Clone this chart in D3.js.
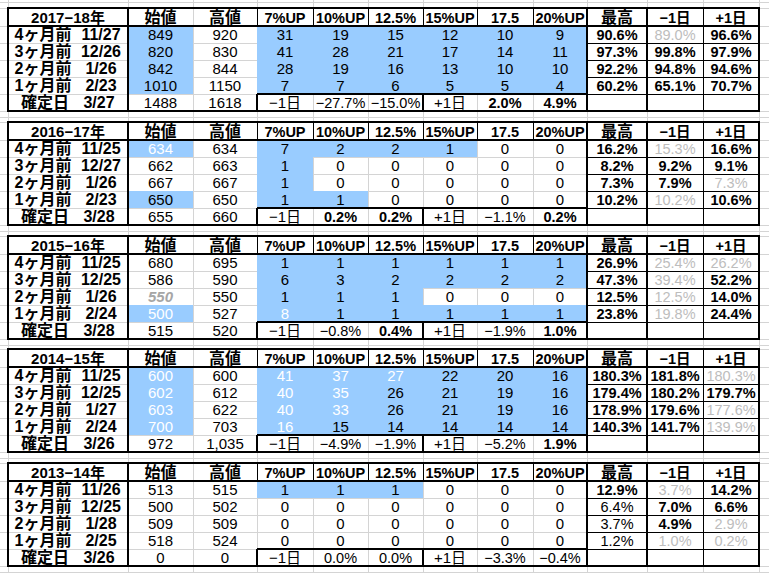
<!DOCTYPE html>
<html><head><meta charset="utf-8">
<script src="https://cdn.jsdelivr.net/npm/d3@7"></script>
<style>body{margin:0;background:#fff}svg{display:block}</style>
</head><body><svg id="c" width="769" height="573"></svg>
<script>
// ---------- data ----------
const years = ["2017−18年","2016−17年","2015−16年","2014−15年","2013−14年"];
const headers = ["始値","高値","7%UP","10%UP","12.5%","15%UP","17.5","20%UP","最高","−1日","+1日"];
const rowLabels = ["4ヶ月前","3ヶ月前","2ヶ月前","1ヶ月前","確定日"];
const dates = [
  ["11/27","12/26","1/26","2/23","3/27"],
  ["11/25","12/27","1/26","2/23","3/28"],
  ["11/25","12/25","1/26","2/24","3/28"],
  ["11/25","12/25","1/27","2/24","3/26"],
  ["11/26","12/25","1/28","2/25","3/26"]];
const openPrice = [[849,820,842,1010,1488],[634,662,667,650,655],[680,586,550,500,515],[600,602,603,700,972],[513,500,509,518,0]];
const highPrice = [[920,830,844,1150,1618],[634,663,667,650,660],[695,590,550,527,520],[600,612,622,703,1035],[515,502,509,524,0]];
const upCounts = [
  [[31,19,15,12,10,9],[41,28,21,17,14,11],[28,19,16,13,10,10],[7,7,6,5,5,4]],
  [[7,2,2,1,0,0],[1,0,0,0,0,0],[1,0,0,0,0,0],[1,1,0,0,0,0]],
  [[1,1,1,1,1,1],[6,3,2,2,2,2],[1,1,1,0,0,0],[8,1,1,1,1,1]],
  [[41,37,27,22,20,16],[40,35,26,21,19,16],[40,33,26,21,19,16],[16,15,14,14,14,14]],
  [[1,1,1,0,0,0],[0,0,0,0,0,0],[0,0,0,0,0,0],[0,0,0,0,0,0]]];
const confirmChange = [
  ["−1日",-27.7,-15.0,"+1日",2.0,4.9],
  ["−1日",0.2,0.2,"+1日",-1.1,0.2],
  ["−1日",-0.8,0.4,"+1日",-1.9,1.0],
  ["−1日",-4.9,-1.9,"+1日",-5.2,1.9],
  ["−1日",0.0,0.0,"+1日",-3.3,-0.4]];
const maxPct    = [[90.6,97.3,92.2,60.2],[16.2,8.2,7.3,10.2],[26.9,47.3,12.5,23.8],[180.3,179.4,178.9,140.3],[12.9,6.4,3.7,1.2]];
const minus1Pct = [[89.0,99.8,94.8,65.1],[15.3,9.2,7.9,10.2],[25.4,39.4,12.5,19.8],[181.8,180.2,179.6,141.7],[3.7,7.0,4.9,1.0]];
const plus1Pct  = [[96.6,97.9,94.6,70.7],[16.6,9.1,7.3,10.6],[26.2,52.2,14.0,24.4],[180.3,179.7,177.6,139.9],[14.2,6.6,2.9,0.2]];
// highlighted opening prices per block, rows 1-4
const openMarked = [[1,1,1,1],[1,0,0,1],[0,0,0,1],[1,1,1,1],[0,0,0,0]];
const openWhite  = [[0,0,0,0],[1,0,0,0],[0,0,0,1],[1,1,1,1],[0,0,0,0]];
const openItalic = [[0,0,0,0],[0,0,0,0],[0,0,1,0],[0,0,0,0],[0,0,0,0]];
const upWhite = [[2,3,0],[3,0,0],[3,1,0],[3,2,0],[3,3,0],[3,0,1],[3,1,1],[3,2,1],[3,0,2]];
const thousandsSep = [false,false,false,true,false];

// ---------- layout ----------
const svg = d3.select("#c");
const W = 769, H = 573;
const colWidths = [120,65,64,56,55,55,54,56,54,60,56,56];
const edges = [8, ...d3.cumsum(colWidths).map(v => v + 8)];
const cx = k => (edges[k] + edges[k+1]) / 2;
const blockTop = d3.scaleLinear().domain([0, 4]).range([8, 463]);
const headH = 18, rowH = 17, blockH = headH + rowH * 5;
const rowTop = (b, r) => Math.round(blockTop(b)) + headH + rowH * r;
const BLUE = "#99ccff", GRID = "#d4d4d4", GRAY = "#bdbdbd";
const FONT = "'Liberation Sans','Noto Sans CJK JP',sans-serif";
const pf = d3.format(".1f");
const pct = v => pf(v) + "%";

svg.append("rect").attr("width", W).attr("height", H).attr("fill", "#fff");

// gridlines
const gGrid = svg.append("g").attr("stroke", GRID).attr("stroke-width", 1);
const hLines = [2];
d3.range(5).forEach(b => {
  const t = Math.round(blockTop(b));
  hLines.push(t, t + headH);
  d3.range(1, 6).forEach(r => hLines.push(t + headH + rowH * r));
  hLines.push(t + blockH + 6);
});
gGrid.selectAll("line.h").data(hLines).join("line").attr("class","h")
  .attr("x1", 0).attr("x2", W).attr("y1", d => d + 0.5).attr("y2", d => d + 0.5);
gGrid.selectAll("line.v").data(edges).join("line").attr("class","v")
  .attr("y1", 0).attr("y2", H).attr("x1", d => d + 0.5).attr("x2", d => d + 0.5);

// fills
const gFill = svg.append("g").attr("fill", BLUE);
d3.range(5).forEach(b => {
  d3.range(4).forEach(r => {
    if (openMarked[b][r]) gFill.append("rect").attr("x", edges[1]).attr("y", rowTop(b, r))
      .attr("width", edges[2] - edges[1]).attr("height", rowH);
    upCounts[b][r].forEach((v, c) => {
      if (v > 0) gFill.append("rect").attr("x", edges[3 + c]).attr("y", rowTop(b, r))
        .attr("width", edges[4 + c] - edges[3 + c]).attr("height", rowH);
    });
  });
});

// borders
const gB = svg.append("g").attr("stroke", "#000").attr("fill", "none");
const line = (x1, y1, x2, y2, w) => gB.append("line").attr("x1", x1).attr("y1", y1).attr("x2", x2).attr("y2", y2).attr("stroke-width", w);
d3.range(5).forEach(b => {
  const t = Math.round(blockTop(b)), bt = t + blockH, hb = t + headH;
  const r4 = hb + rowH * 4;
  for (let k = 3; k <= 8; k++) line(edges[k] + 0.5, t, edges[k] + 0.5, hb, 1);
  for (let r = 1; r <= 4; r++) line(edges[9], hb + rowH * r + 0.5, edges[12], hb + rowH * r + 0.5, 1);
  line(edges[11] + 0.5, t, edges[11] + 0.5, bt, 1);
  line(edges[3], r4, edges[9], r4, 2);
  line(edges[3], r4, edges[3], bt, 2);
  line(edges[6], r4, edges[6], bt, 2);
  line(edges[0], hb, edges[12], hb, 2);
  [1, 9, 10].forEach(k => line(edges[k], t, edges[k], bt, 2));
  gB.append("rect").attr("x", edges[0]).attr("y", t).attr("width", edges[12] - edges[0])
    .attr("height", blockH).attr("stroke-width", 2);
});

// text
const gT = svg.append("g").attr("font-family", FONT).attr("text-anchor", "middle");
const txt = (x, y, s, o = {}) => gT.append("text").attr("x", x).attr("y", y).attr("dy", "0.36em")
  .attr("font-size", o.size || 15).attr("font-weight", o.bold ? "bold" : "normal")
  .attr("font-style", o.italic ? "italic" : "normal").attr("fill", o.fill || "#000").text(s);

d3.range(5).forEach(b => {
  const t = Math.round(blockTop(b)), hy = t + headH / 2 + 0.5;
  txt(cx(0), hy, years[b], {bold: true, size: 15});
  headers.forEach((h, i) => txt(cx(i + 1), hy, h, {bold: true, size: /[^\x00-\x7f]/.test(h) && !/^[−+]/.test(h) ? 16 : 14.5}));
  d3.range(5).forEach(r => {
    const y = rowTop(b, r) + rowH / 2;
    txt(r === 4 ? 45 : 43, y, rowLabels[r], {bold: true, size: 16});
    txt(r === 4 ? 99 : 101, y, dates[b][r], {bold: true, size: 16});
    const fmtP = (thousandsSep[b] && r === 4) ? d3.format(",") : d3.format("d");
    const ow = r < 4 && openWhite[b][r], oi = r < 4 && openItalic[b][r];
    txt(cx(1), y, fmtP(openPrice[b][r]), {fill: ow ? "#fff" : (oi ? "#a6a6a6" : "#000"), italic: oi, bold: oi});
    txt(cx(2), y, fmtP(highPrice[b][r]));
    if (r < 4) {
      upCounts[b][r].forEach((v, c) => {
        const white = upWhite.some(w => w[0] === b && w[1] === r && w[2] === c);
        txt(cx(3 + c), y, v, {fill: white ? "#fff" : "#000"});
      });
      const m = maxPct[b][r];
      txt(cx(9), y, pct(m), {bold: m >= 7, size: 14.5});
      [minus1Pct, plus1Pct].forEach((arr, j) => {
        const v = arr[b][r], dim = v <= m;
        txt(cx(10 + j), y, pct(v), {bold: !dim, fill: dim ? GRAY : "#000", size: 14.5});
      });
    } else {
      confirmChange[b].forEach((v, c) => {
        if (typeof v === "string") txt(cx(3 + c), y, v);
        else txt(cx(3 + c), y, pct(v), {bold: v > 0, size: 14.5});
      });
    }
  });
});
</script></body></html>
